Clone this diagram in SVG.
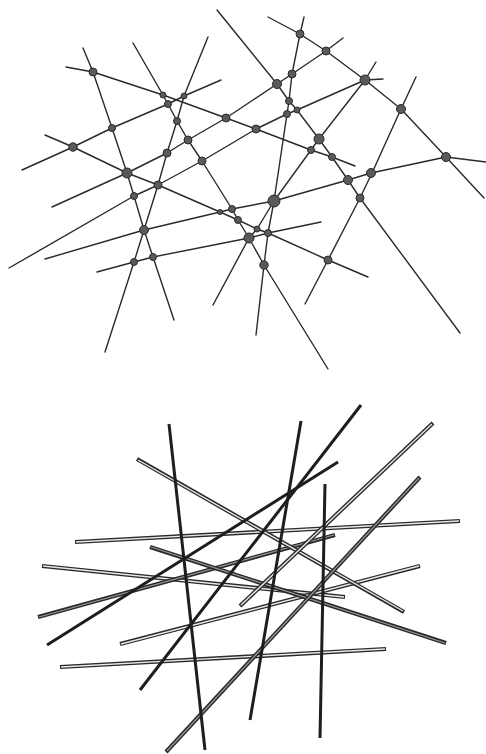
<svg xmlns="http://www.w3.org/2000/svg" width="486" height="754" viewBox="0 0 486 754">
<style>
.ln{fill:none;stroke:#2a2a2a;stroke-width:1.4;stroke-linejoin:round;stroke-linecap:round}
.nd{fill:#5a5a5a;stroke:#2a2a2a;stroke-width:1}
.dk{fill:none;stroke:#1e1e1e;stroke-width:3;stroke-linecap:butt}
.ho{fill:none;stroke:#2a2a2a;stroke-width:4.2;stroke-linecap:butt}
.hi{fill:none;stroke:#e8e8e8;stroke-width:1.4;stroke-linecap:butt}
.hm{fill:none;stroke:#9a9a9a;stroke-width:1.2;stroke-linecap:butt}
</style>
<rect width="486" height="754" fill="#fff"/>
<g id="connectors">
<polyline id="lineA" class="ln" points="66,67 93,72 163,95 226,118 256,129 311,150 332,157 355,166"/>
<polyline id="lineB" class="ln" points="83,48 93,72 112,128 127,173 134,196 144,230 153,257 174,320"/>
<polyline id="lineC" class="ln" points="208,37 184,96 177,121 167,153 158,185 144,230 134,262 105,352"/>
<polyline id="lineD" class="ln" points="133,43 163,95 168,104 177,121 188,140 202,161 232,209 238,220 249,238 264,265 328,369"/>
<polyline id="lineE" class="ln" points="45,135 73,147 127,173 158,185 220,212 238,220 257,229 268,233 328,260 368,277"/>
<polyline id="lineF" class="ln" points="22,170 73,147 112,128 168,104 184,96 221,80"/>
<polyline id="lineQ" class="ln" points="343,38 326,51 292,74 277,84 226,118 188,140 167,153 127,173 52,207"/>
<polyline id="lineH" class="ln" points="383,79 365,80 297,110 287,114 256,129 202,161 158,185 134,196 9,268"/>
<polyline id="lineI" class="ln" points="217,10 243,42 277,84 289,101 297,110 319,139 332,157 348,180 360,198 460,333"/>
<polyline id="lineJ" class="ln" points="304,17 300,34 292,74 289,101 287,114 274,201 268,233 264,265 256,335"/>
<polyline id="lineK" class="ln" points="45,259 144,230 220,212 232,209 274,201 348,180 371,173 446,157 486,162"/>
<polyline id="lineL" class="ln" points="97,272 134,262 153,257 249,238 268,233 321,222"/>
<polyline id="lineM" class="ln" points="376,62 365,80 319,139 311,150 274,201 257,229 249,238 213,305"/>
<polyline id="lineN" class="ln" points="416,77 401,109 372,173 360,198 328,260 305,304"/>
<polyline id="lineP" class="ln" points="268,17 300,34 326,51 365,80 401,109 446,157 484,198"/>
</g>
<g id="nodes">
<g id="n1"><circle class="nd" cx="93" cy="72" r="4"/></g>
<g id="n2"><circle class="nd" cx="163" cy="95" r="3"/></g>
<g id="n3"><circle class="nd" cx="168" cy="104" r="3.5"/></g>
<g id="n4"><circle class="nd" cx="184" cy="96" r="3"/></g>
<g id="n5"><circle class="nd" cx="177" cy="121" r="3.5"/></g>
<g id="n6"><circle class="nd" cx="112" cy="128" r="3.5"/></g>
<g id="n7"><circle class="nd" cx="73" cy="147" r="4.2"/></g>
<g id="n8"><circle class="nd" cx="226" cy="118" r="4"/></g>
<g id="n9"><circle class="nd" cx="188" cy="140" r="4"/></g>
<g id="n10"><circle class="nd" cx="167" cy="153" r="4"/></g>
<g id="n11"><circle class="nd" cx="202" cy="161" r="4"/></g>
<g id="n12"><circle class="nd" cx="127" cy="173" r="5"/></g>
<g id="n13"><circle class="nd" cx="158" cy="185" r="4"/></g>
<g id="n14"><circle class="nd" cx="134" cy="196" r="3.5"/></g>
<g id="n15"><circle class="nd" cx="144" cy="230" r="4.5"/></g>
<g id="n16"><circle class="nd" cx="153" cy="257" r="3.5"/></g>
<g id="n17"><circle class="nd" cx="134" cy="262" r="3.5"/></g>
<g id="n18"><circle class="nd" cx="220" cy="212" r="2.5"/></g>
<g id="n19"><circle class="nd" cx="232" cy="209" r="3.5"/></g>
<g id="n20"><circle class="nd" cx="238" cy="220" r="3.5"/></g>
<g id="n21"><circle class="nd" cx="257" cy="229" r="3"/></g>
<g id="n22"><circle class="nd" cx="268" cy="233" r="3.5"/></g>
<g id="n23"><circle class="nd" cx="249" cy="238" r="5"/></g>
<g id="n24"><circle class="nd" cx="274" cy="201" r="6"/></g>
<g id="n25"><circle class="nd" cx="264" cy="265" r="4.2"/></g>
<g id="n26"><circle class="nd" cx="300" cy="34" r="4"/></g>
<g id="n27"><circle class="nd" cx="326" cy="51" r="4"/></g>
<g id="n28"><circle class="nd" cx="292" cy="74" r="4"/></g>
<g id="n29"><circle class="nd" cx="277" cy="84" r="4.5"/></g>
<g id="n30"><circle class="nd" cx="289" cy="101" r="3.5"/></g>
<g id="n31"><circle class="nd" cx="297" cy="110" r="3"/></g>
<g id="n32"><circle class="nd" cx="287" cy="114" r="3.5"/></g>
<g id="n33"><circle class="nd" cx="256" cy="129" r="4"/></g>
<g id="n34"><circle class="nd" cx="365" cy="80" r="5"/></g>
<g id="n35"><circle class="nd" cx="319" cy="139" r="5"/></g>
<g id="n36"><circle class="nd" cx="311" cy="150" r="3.5"/></g>
<g id="n37"><circle class="nd" cx="332" cy="157" r="3.5"/></g>
<g id="n38"><circle class="nd" cx="401" cy="109" r="4.5"/></g>
<g id="n39"><circle class="nd" cx="446" cy="157" r="4.5"/></g>
<g id="n40"><circle class="nd" cx="348" cy="180" r="4.5"/></g>
<g id="n41"><circle class="nd" cx="371" cy="173" r="4.5"/></g>
<g id="n42"><circle class="nd" cx="360" cy="198" r="4"/></g>
<g id="n43"><circle class="nd" cx="328" cy="260" r="4"/></g>
</g>
<g id="sticks">
<g id="s3"><line class="ho" x1="75" y1="542" x2="460" y2="521"/><line class="hi" x1="76" y1="542" x2="459" y2="521"/></g>
<g id="s5"><line class="ho" x1="42" y1="566" x2="345" y2="597"/><line class="hi" x1="43" y1="566" x2="344" y2="597"/></g>
<g id="s14"><line class="ho" x1="60" y1="667" x2="386" y2="649"/><line class="hi" x1="61" y1="667" x2="385" y2="649"/></g>
<g id="s13"><line class="ho" x1="120" y1="644" x2="420" y2="566"/><line class="hi" x1="121" y1="644" x2="419" y2="566"/></g>
<g id="s12"><line class="ho" x1="38" y1="617" x2="335" y2="535"/><line class="hm" x1="39" y1="617" x2="334" y2="535"/></g>
<g id="s4"><line class="ho" x1="150" y1="547" x2="446" y2="643"/><line class="hm" x1="151" y1="547" x2="445" y2="643"/></g>
<g id="s2"><line class="ho" x1="137" y1="459" x2="404" y2="612"/><line class="hi" x1="138" y1="460" x2="403" y2="611"/></g>
<g id="s9"><line class="ho" x1="433" y1="423" x2="240" y2="606"/><line class="hi" x1="432" y1="424" x2="241" y2="605"/></g>
<g id="s10"><line class="ho" x1="420" y1="477" x2="166" y2="752"/><line class="hm" x1="419" y1="478" x2="167" y2="751"/></g>
<g id="s6"><line class="dk" x1="338" y1="462" x2="47" y2="645"/></g>
<g id="s7"><line class="dk" x1="361" y1="405" x2="140" y2="690"/></g>
<g id="s1"><line class="dk" x1="169" y1="424" x2="205" y2="750"/></g>
<g id="s8"><line class="dk" x1="301" y1="421" x2="250" y2="720"/></g>
<g id="s11"><line class="dk" x1="325" y1="484" x2="320" y2="738"/></g>
</g>
</svg>
